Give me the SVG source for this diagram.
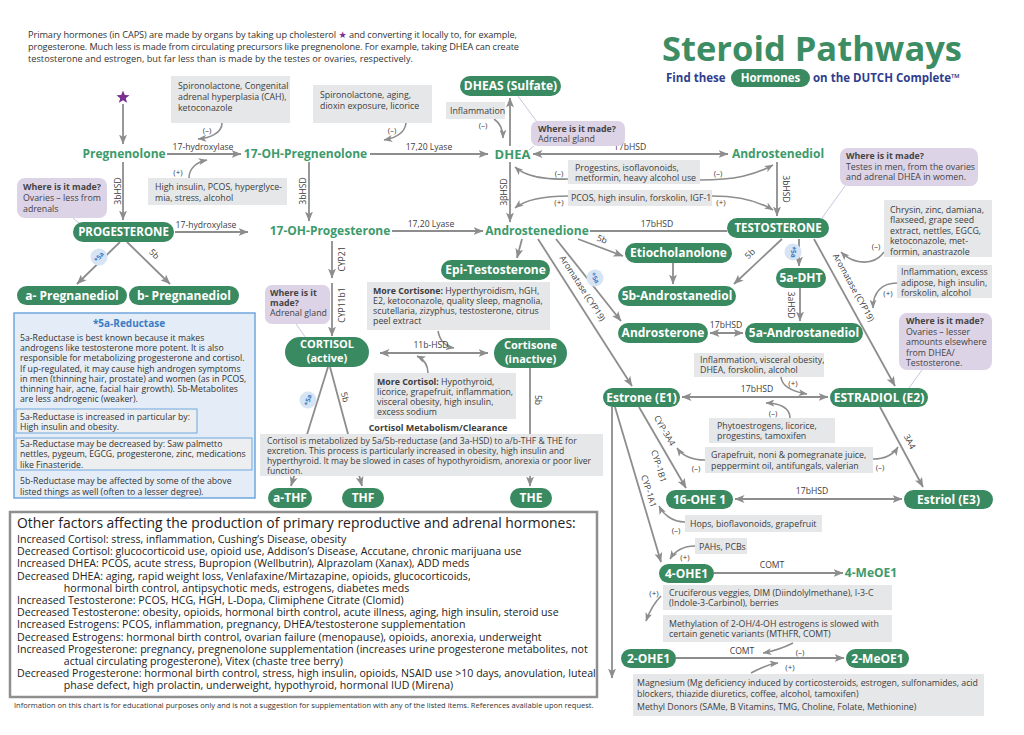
<svg xmlns="http://www.w3.org/2000/svg" width="1024" height="735" viewBox="0 0 1024 735">
<style>
text{font-family:"Open Sans","Noto Sans","Liberation Sans",sans-serif;}
.top{font-size:9.2px;fill:#333}
.n{font-size:12px;font-weight:700;fill:#3d9a6b}
.p{fill:#3a8a61}
.pt{font-size:12px;font-weight:700;fill:#fff;text-anchor:middle}
.g{fill:#e6e7e8}
.gt{font-size:8.8px;fill:#3d3d3d}
.b{font-weight:700}
.pu{fill:#ddd3e7}
.pt2{font-size:8.8px;fill:#444}
.lb{font-size:8.6px;fill:#3d3d3d}
.pm{font-size:8px;fill:#3d3d3d;text-anchor:middle}
.e{stroke:#8d8d8d;stroke-width:1.8;fill:none;marker-end:url(#ah)}
.e2{stroke:#8d8d8d;stroke-width:1.8;fill:none;marker-end:url(#ah);marker-start:url(#ah)}
.ep{stroke:#8d8d8d;stroke-width:1.8;fill:none}
.c{stroke:#8d8d8d;stroke-width:1.6;fill:none;marker-end:url(#ah2)}
.ptr{stroke:#bdb5d6;stroke-width:0.8;fill:none}
.ct{font-size:6.5px;font-weight:700;fill:#3b7cc5;text-anchor:middle}
.bt{font-size:8.7px;fill:#333}
.of{font-size:10.2px;fill:#222}
.cm{font-size:8.6px;fill:#3d3d3d}
</style>
<defs>
<marker id="ah" viewBox="0 0 10 8" refX="9.5" refY="4" markerWidth="10" markerHeight="8" markerUnits="userSpaceOnUse" orient="auto-start-reverse"><path d="M0,0 L10,4 L0,8 L2.5,4 z" fill="#8d8d8d"/></marker>
<marker id="ah2" viewBox="0 0 10 8" refX="9.5" refY="4" markerWidth="9" markerHeight="7" markerUnits="userSpaceOnUse" orient="auto"><path d="M0,0 L10,4 L0,8 L2.5,4 z" fill="#8d8d8d"/></marker>
</defs>
<rect width="1024" height="735" fill="#fff"/>

<!-- header -->
<g id="intro">
<text class="top" x="28" y="38" textLength="489" lengthAdjust="spacing">Primary hormones (in CAPS) are made by organs by taking up cholesterol <tspan fill="#7a2e8f" style="font-family:'DejaVu Sans',sans-serif">★</tspan> and converting it locally to, for example,</text>
<text class="top" x="28" y="50" textLength="491" lengthAdjust="spacing">progesterone. Much less is made from circulating precursors like pregnenolone. For example, taking DHEA can create</text>
<text class="top" x="28" y="62" textLength="385" lengthAdjust="spacing">testosterone and estrogen, but far less than is made by the testes or ovaries, respectively.</text>
</g>
<g id="title">
<text x="662" y="61" style="font-size:34.5px;font-weight:700;fill:#3c8d63">Steroid Pathways</text>
<text x="666" y="82" style="font-size:11.5px;font-weight:700;fill:#2f3d8d">Find these</text>
<rect x="731" y="69" width="79" height="18" rx="9" class="p"/>
<text x="770.5" y="82" style="font-size:11.5px;font-weight:700;fill:#fff;text-anchor:middle">Hormones</text>
<text x="813" y="82" style="font-size:11.5px;font-weight:700;fill:#2f3d8d">on the DUTCH Complete™</text>
</g>

<!-- connectors -->
<g id="connectors">
<path class="e" d="M123,104 V144"/>
<path class="e" d="M167,154 H241"/>
<path class="e" d="M370,154 H488"/>
<path class="e" d="M510,146 V98"/>
<path class="e2" d="M533,154 H728"/>
<path class="e" d="M123,162 V220"/>
<path class="e" d="M309,162 V221"/>
<path class="e" d="M510,162 V222"/>
<path class="e" d="M777,162 V216"/>
<path class="e" d="M175,232 H248"/>
<path class="e" d="M392,231 H483"/>
<path class="ep" d="M590,231 H727"/>
<path class="e" d="M799,239 V266"/>
<path class="e" d="M800,288 V321"/>
<path class="e2" d="M710,333 H743"/>
<path class="e" d="M782,239 L734,284"/>
<path class="e" d="M673,263 V284"/>
<path class="e" d="M578,239 L623,256"/>
<path class="e" d="M522,239 L517,258"/>
<path class="e" d="M556,239 L621,321"/>
<path class="e" d="M538,239 L632,386"/>
<path class="e" d="M814,239 L895,386"/>
<path class="e2" d="M682,397 H828"/>
<path class="e" d="M639,407 L686,488"/>
<path class="e" d="M615,407 L661,562"/>
<path class="e" d="M612,407 V678"/>
<path class="e" d="M880,407 L923,487"/>
<path class="e2" d="M735,499 H902"/>
<path class="e" d="M714,573 H843"/>
<path class="e" d="M676,658 H844"/>
<path class="e" d="M332,241 V278"/>
<path class="e" d="M332,283 V336"/>
<path class="e2" d="M380,353 H488"/>
<path class="e" d="M328,367 L291,486"/>
<path class="e" d="M330,367 L362,486"/>
<path class="e" d="M530,368 V486"/>
<path class="e" d="M120,242 L77,284"/>
<path class="e" d="M127,242 L170,284"/>
<!-- influence curves -->
<path class="c" d="M222,123 C222,133 210,138 198,139"/>
<path class="c" d="M189,178 C189,168 197,162 207,160"/>
<path class="c" d="M406,123 C405,133 395,138 384,140"/>
<path class="c" d="M494,119 C500,123 503,130 503,138"/>
<path class="c" d="M568,179 C545,180 525,176 515,167"/>
<path class="c" d="M700,180 C735,180 755,175 773,165"/>
<path class="c" d="M569,196 C545,196 525,200 515,208"/>
<path class="c" d="M712,196 C740,196 760,202 773,210"/>
<path class="c" d="M884,252 C875,265 855,266 841,252"/>
<path class="c" d="M897,283 C882,283 873,292 873,308"/>
<path class="c" d="M781,377 C782,388 795,392 807,394"/>
<path class="c" d="M790,418 C790,408 780,403 766,403"/>
<path class="c" d="M705,460 C690,460 682,455 677,448"/>
<path class="c" d="M873,459 C885,459 893,455 898,447"/>
<path class="c" d="M685,522 C672,522 663,514 659,506"/>
<path class="c" d="M695,546 C683,546 675,551 670,559"/>
<path class="c" d="M661,596 C655,602 650,610 646,621"/>
<path class="c" d="M793,643 C785,647 775,651 763,653"/>
<path class="c" d="M751,673 C760,668 770,664 778,663"/>
<path class="c" d="M438,331 C440,342 447,347 454,348"/>
<path class="c" d="M428,373 C428,365 423,359 417,356"/>
<!-- callout pointers -->
<path class="ptr" d="M72,217 L79,223"/>
<path class="ptr" d="M518,96 L537,122 M534,146 L529,150"/>
<path class="ptr" d="M845,186 L822,218"/>
<path class="ptr" d="M922,370 L909,388"/>
<path class="ptr" d="M296,324 L306,338"/>
<!-- edge labels -->
<text class="lb" x="203" y="150" text-anchor="middle">17-hydroxylase</text>
<text class="lb" x="429" y="150" text-anchor="middle">17,20 Lyase</text>
<text class="lb" x="630" y="150" text-anchor="middle">17bHSD</text>
<text class="lb" transform="translate(121,191) rotate(-90)" text-anchor="middle">3bHSD</text>
<text class="lb" transform="translate(306,191) rotate(-90)" text-anchor="middle">3bHSD</text>
<text class="lb" transform="translate(507,192) rotate(-90)" text-anchor="middle">3βHSD</text>
<text class="lb" transform="translate(783,189) rotate(90)" text-anchor="middle">3bHSD</text>
<text class="lb" x="206" y="228" text-anchor="middle">17-hydroxylase</text>
<text class="lb" x="431" y="227" text-anchor="middle">17,20 Lyase</text>
<text class="lb" x="657" y="227" text-anchor="middle">17bHSD</text>
<text class="lb" transform="translate(788,305) rotate(90)" text-anchor="middle">3aHSD</text>
<text class="lb" x="726" y="328" text-anchor="middle">17bHSD</text>
<text class="lb" transform="translate(752,256) rotate(-44)" text-anchor="middle">5b</text>
<text class="lb" transform="translate(601,242) rotate(21)" text-anchor="middle">5b</text>
<text class="lb" transform="translate(580,290) rotate(57)" text-anchor="middle">Aromatase (CYP19)</text>
<text class="lb" transform="translate(851,289) rotate(61)" text-anchor="middle">Aromatase (CYP19)</text>
<text class="lb" x="757" y="392" text-anchor="middle">17bHSD</text>
<text class="lb" transform="translate(662,432) rotate(60)" text-anchor="middle">CYP-3A4</text>
<text class="lb" transform="translate(656,467) rotate(73)" text-anchor="middle">CYP-1B1</text>
<text class="lb" transform="translate(646,492) rotate(73)" text-anchor="middle">CYP-1A1</text>
<text class="lb" transform="translate(907,443) rotate(62)" text-anchor="middle">3A4</text>
<text class="lb" x="812" y="494" text-anchor="middle">17bHSD</text>
<text class="lb" x="772" y="568" text-anchor="middle">COMT</text>
<text class="lb" x="742" y="654" text-anchor="middle">COMT</text>
<text class="lb" transform="translate(345,259) rotate(-90)" text-anchor="middle">CYP21</text>
<text class="lb" transform="translate(345,305) rotate(-90)" text-anchor="middle">CYP11b1</text>
<text class="lb" x="431" y="348" text-anchor="middle">11b-HSD</text>
<text class="lb" transform="translate(342,398) rotate(75)" text-anchor="middle">5b</text>
<text class="lb" transform="translate(535,400) rotate(90)" text-anchor="middle">5b</text>
<text class="lb" transform="translate(152,256) rotate(45)" text-anchor="middle">5b</text>
<!-- plus/minus -->
<text class="pm" x="207" y="133">(–)</text>
<text class="pm" x="178" y="175">(+)</text>
<text class="pm" x="392" y="133">(–)</text>
<text class="pm" x="483" y="128">(–)</text>
<text class="pm" x="559" y="176">(–)</text>
<text class="pm" x="718" y="176">(–)</text>
<text class="pm" x="559" y="205">(+)</text>
<text class="pm" x="721" y="205">(+)</text>
<text class="pm" x="876" y="249">(–)</text>
<text class="pm" x="888" y="296">(+)</text>
<text class="pm" x="793" y="386">(+)</text>
<text class="pm" x="773" y="416">(–)</text>
<text class="pm" x="696" y="471">(–)</text>
<text class="pm" x="880" y="470">(–)</text>
<text class="pm" x="676" y="533">(–)</text>
<text class="pm" x="685" y="560">(+)</text>
<text class="pm" x="654" y="596">(+)</text>
<text class="pm" x="800" y="655">(–)</text>
<text class="pm" x="790" y="670">(+)</text>
<!-- 5a circles -->
<g transform="translate(99,257) rotate(-50)"><circle r="8.5" fill="#d6e4f4"/><text class="ct" y="2.3">*5a</text></g>
<g transform="translate(793,252) rotate(90)"><circle r="8.5" fill="#d6e4f4"/><text class="ct" y="2.3">*5a</text></g>
<g transform="translate(595,278) rotate(60)"><circle r="8.5" fill="#d6e4f4"/><text class="ct" y="2.3">*5a</text></g>
<g transform="translate(308,400) rotate(-75)"><circle r="8.5" fill="#d6e4f4"/><text class="ct" y="2.3">*5a</text></g>
</g>

<!-- nodes -->
<g id="cholesterol"><polygon points="123,90.5 124.8,95 129.5,95.2 125.8,98.2 127.1,102.8 123,100.2 118.9,102.8 120.2,98.2 116.5,95.2 121.2,95" fill="#7a2e8f"/></g>
<g id="pregnenolone"><text class="n" x="124" y="158.3" text-anchor="middle">Pregnenolone</text></g>
<g id="oh-pregnenolone"><text class="n" x="305.5" y="158.3" text-anchor="middle">17-OH-Pregnenolone</text></g>
<g id="dhea"><text class="n" x="512.5" y="158.6" text-anchor="middle" style="font-size:13px">DHEA</text></g>
<g id="dheas"><rect class="p" x="460" y="76" width="101" height="20" rx="10"/><text class="pt" x="510.5" y="90.3">DHEAS (Sulfate)</text></g>
<g id="androstenediol"><text class="n" x="778" y="158.3" text-anchor="middle">Androstenediol</text></g>
<g id="progesterone"><rect class="p" x="73" y="222" width="101" height="20" rx="10"/><text class="pt" x="123.5" y="236.2" style="font-size:11.5px">PROGESTERONE</text></g>
<g id="oh-progesterone"><text class="n" x="330" y="235.3" text-anchor="middle">17-OH-Progesterone</text></g>
<g id="androstenedione"><text class="n" x="537" y="235.3" text-anchor="middle">Androstenedione</text></g>
<g id="testosterone"><rect class="p" x="727" y="218" width="102" height="20" rx="10"/><text class="pt" x="778" y="232.2" style="font-size:11.5px">TESTOSTERONE</text></g>
<g id="epi-testosterone"><rect class="p" x="441" y="260" width="109" height="20" rx="10"/><text class="pt" x="495.5" y="274.3">Epi-Testosterone</text></g>
<g id="etiocholanolone"><rect class="p" x="625" y="243" width="107" height="20" rx="10"/><text class="pt" x="678.5" y="257.3">Etiocholanolone</text></g>
<g id="b-androstanediol"><rect class="p" x="618" y="286" width="118" height="20" rx="10"/><text class="pt" x="677" y="300.3">5b-Androstanediol</text></g>
<g id="dht"><rect class="p" x="776" y="268" width="50" height="20" rx="10"/><text class="pt" x="801" y="282.3">5a-DHT</text></g>
<g id="androsterone"><rect class="p" x="618" y="323" width="90" height="20" rx="10"/><text class="pt" x="663" y="337.3">Androsterone</text></g>
<g id="a-androstanediol"><rect class="p" x="745" y="323" width="118" height="20" rx="10"/><text class="pt" x="804" y="337.3">5a-Androstanediol</text></g>
<g id="a-pregnanediol"><rect class="p" x="17" y="286" width="110" height="19" rx="9.5"/><text class="pt" x="72" y="299.8">a- Pregnanediol</text></g>
<g id="b-pregnanediol"><rect class="p" x="129" y="286" width="110" height="19" rx="9.5"/><text class="pt" x="184" y="299.8">b- Pregnanediol</text></g>
<g id="cortisol"><rect class="p" x="285" y="337" width="84" height="30" rx="15"/><text class="pt" x="327" y="348.3" style="font-size:11px">CORTISOL</text><text class="pt" x="327" y="361.8" style="font-size:11px">(active)</text></g>
<g id="cortisone"><rect class="p" x="494" y="338" width="73" height="30" rx="15"/><text class="pt" x="530.5" y="349.3" style="font-size:11px">Cortisone</text><text class="pt" x="530.5" y="362.8" style="font-size:11px">(inactive)</text></g>
<g id="a-thf"><rect class="p" x="268" y="488" width="44" height="20" rx="10"/><text class="pt" x="290" y="502.3">a-THF</text></g>
<g id="thf"><rect class="p" x="342" y="488" width="42" height="20" rx="10"/><text class="pt" x="363" y="502.3">THF</text></g>
<g id="the"><rect class="p" x="510" y="488" width="42" height="20" rx="10"/><text class="pt" x="531" y="502.3">THE</text></g>
<g id="estrone"><rect class="p" x="603" y="388" width="77" height="19" rx="9.5"/><text class="pt" x="641.5" y="401.8">Estrone (E1)</text></g>
<g id="estradiol"><rect class="p" x="830" y="388" width="98" height="19" rx="9.5"/><text class="pt" x="879" y="401.8">ESTRADIOL (E2)</text></g>
<g id="ohe16"><rect class="p" x="666" y="490" width="67" height="19" rx="9.5"/><text class="pt" x="699.5" y="503.8">16-OHE 1</text></g>
<g id="estriol"><rect class="p" x="904" y="490" width="89" height="19" rx="9.5"/><text class="pt" x="948.5" y="503.8">Estriol (E3)</text></g>
<g id="ohe4"><rect class="p" x="659" y="564" width="55" height="19" rx="9.5"/><text class="pt" x="686.5" y="577.8">4-OHE1</text></g>
<g id="meoe4"><text class="n" x="871" y="577.3" text-anchor="middle">4-MeOE1</text></g>
<g id="ohe2"><rect class="p" x="621" y="649" width="55" height="19" rx="9.5"/><text class="pt" x="648.5" y="662.8">2-OHE1</text></g>
<g id="meoe2"><rect class="p" x="846" y="649" width="63" height="19" rx="9.5"/><text class="pt" x="877.5" y="662.8">2-MeOE1</text></g>

<!-- gray factor boxes -->
<g id="f-spiro1"><rect class="g" x="171" y="76" width="119" height="47"/><text class="gt" x="178" y="89">Spironolactone, Congenital</text><text class="gt" x="178" y="100">adrenal hyperplasia (CAH),</text><text class="gt" x="178" y="111">ketoconazole</text></g>
<g id="f-insulin"><rect class="g" x="148" y="178" width="139" height="27"/><text class="gt" x="155" y="189.5">High insulin, PCOS, hyperglyce-</text><text class="gt" x="155" y="200.5">mia, stress, alcohol</text></g>
<g id="f-spiro2"><rect class="g" x="313" y="85" width="119" height="38"/><text class="gt" x="320" y="98">Spironolactone, aging,</text><text class="gt" x="320" y="109">dioxin exposure, licorice</text></g>
<g id="f-inflam1"><rect class="g" x="446" y="102" width="59" height="17"/><text class="gt" x="450" y="114">Inflammation</text></g>
<g id="f-progestins"><rect class="g" x="568" y="160" width="132" height="24"/><text class="gt" x="575" y="170.5">Progestins, isoflavonoids,</text><text class="gt" x="575" y="181">metformin, heavy alcohol use</text></g>
<g id="f-pcos"><rect class="g" x="568" y="190" width="144" height="16"/><text class="gt" x="571" y="201">PCOS, high insulin, forskolin, IGF-1</text></g>
<g id="f-chrysin"><rect class="g" x="884" y="200" width="108" height="57"/><text class="gt" x="890" y="212.5">Chrysin, zinc, damiana,</text><text class="gt" x="890" y="223">flaxseed, grape seed</text><text class="gt" x="890" y="233.5">extract, nettles, EGCG,</text><text class="gt" x="890" y="244">ketoconazole, met-</text><text class="gt" x="890" y="254.5">formin, anastrazole</text></g>
<g id="f-inflam2"><rect class="g" x="897" y="265" width="95" height="33"/><text class="gt" x="901" y="275">Inflammation, excess</text><text class="gt" x="901" y="285.5">adipose, high insulin,</text><text class="gt" x="901" y="296">forskolin, alcohol</text></g>
<g id="f-inflam3"><rect class="g" x="694" y="353" width="130" height="24"/><text class="gt" x="700" y="362.5">Inflammation, visceral obesity,</text><text class="gt" x="700" y="373">DHEA, forskolin, alcohol</text></g>
<g id="f-phyto"><rect class="g" x="709" y="418" width="126" height="25"/><text class="gt" x="717" y="428.5">Phytoestrogens, licorice,</text><text class="gt" x="717" y="439">progestins, tamoxifen</text></g>
<g id="f-grapefruit"><rect class="g" x="705" y="447" width="168" height="26"/><text class="gt" x="711" y="458">Grapefruit, noni &amp; pomegranate juice,</text><text class="gt" x="711" y="468.5">peppermint oil, antifungals, valerian</text></g>
<g id="f-hops"><rect class="g" x="685" y="515" width="137" height="17"/><text class="gt" x="690" y="526.5">Hops, bioflavonoids, grapefruit</text></g>
<g id="f-pahs"><rect class="g" x="695" y="538" width="52" height="16"/><text class="gt" x="699" y="549.5">PAHs, PCBs</text></g>
<g id="f-cruciferous"><rect class="g" x="663" y="585" width="229" height="25"/><text class="gt" x="669" y="595.5">Cruciferous veggies, DIM (Diindolylmethane), I-3-C</text><text class="gt" x="669" y="606">(Indole-3-Carbinol), berries</text></g>
<g id="f-methylation"><rect class="g" x="663" y="615" width="229" height="27"/><text class="gt" x="669" y="626.5">Methylation of 2-OH/4-OH estrogens is slowed with</text><text class="gt" x="669" y="637">certain genetic variants (MTHFR, COMT)</text></g>
<g id="f-magnesium"><rect class="g" x="633" y="674" width="351" height="42"/><text class="gt" x="637" y="686">Magnesium (Mg deficiency induced by corticosteroids, estrogen, sulfonamides, acid</text><text class="gt" x="637" y="696.5">blockers, thiazide diuretics, coffee, alcohol, tamoxifen)</text><text class="gt" x="637" y="709.5">Methyl Donors (SAMe, B Vitamins, TMG, Choline, Folate, Methionine)</text></g>
<g id="f-morecortisone"><rect class="g" x="367" y="282" width="183" height="48"/><text class="gt" x="373" y="293.5"><tspan class="b">More Cortisone:</tspan> Hyperthyroidism, hGH,</text><text class="gt" x="373" y="303.5">E2, ketoconazole, quality sleep, magnolia,</text><text class="gt" x="373" y="313.5">scutellaria, zizyphus, testosterone, citrus</text><text class="gt" x="373" y="323.5">peel extract</text></g>
<g id="f-morecortisol"><rect class="g" x="374" y="373" width="142" height="46"/><text class="gt" x="377" y="384.5"><tspan class="b">More Cortisol:</tspan> Hypothyroid,</text><text class="gt" x="377" y="394.5">licorice, grapefruit, inflammation,</text><text class="gt" x="377" y="404.5">visceral obesity, high insulin,</text><text class="gt" x="377" y="414.5">excess sodium</text></g>
<g id="cortisol-clearance"><text class="gt b" x="438" y="431" text-anchor="middle" style="font-size:9px">Cortisol Metabolism/Clearance</text><rect class="g" x="260" y="434" width="343" height="42"/><text class="cm" x="267" y="444">Cortisol is metabolized by 5a/5b-reductase (and 3a-HSD) to a/b-THF &amp; THE for</text><text class="cm" x="267" y="454">excretion. This process is particularly increased in obesity, high insulin and</text><text class="cm" x="267" y="464">hyperthyroid. It may be slowed in cases of hypothyroidism, anorexia or poor liver</text><text class="cm" x="267" y="474">function.</text></g>

<!-- where is it made callouts -->
<g id="w-progesterone"><rect class="pu" x="17" y="178" width="90" height="40" rx="8"/><text class="pt2 b" x="23" y="190" fill="#333">Where is it made?</text><text class="pt2" x="23" y="201">Ovaries – less from</text><text class="pt2" x="23" y="212">adrenals</text></g>
<g id="w-dhea"><rect class="pu" x="531" y="121" width="94" height="25" rx="7"/><text class="pt2 b" x="538" y="131.5" fill="#333">Where is it made?</text><text class="pt2" x="538" y="142">Adrenal gland</text></g>
<g id="w-testosterone"><rect class="pu" x="840" y="148" width="138" height="38" rx="8"/><text class="pt2 b" x="846" y="159" fill="#333">Where is it made?</text><text class="pt2" x="846" y="169.5">Testes in men, from the ovaries</text><text class="pt2" x="846" y="180">and adrenal DHEA in women.</text></g>
<g id="w-estradiol"><rect class="pu" x="899" y="313" width="93" height="57" rx="8"/><text class="pt2 b" x="906" y="324" fill="#333">Where is it made?</text><text class="pt2" x="906" y="334.5">Ovaries – lesser</text><text class="pt2" x="906" y="345">amounts elsewhere</text><text class="pt2" x="906" y="355.5">from DHEA/</text><text class="pt2" x="906" y="366">Testosterone.</text></g>
<g id="w-cortisol"><rect class="pu" x="265" y="285" width="65" height="39" rx="7"/><text class="pt2 b" x="270" y="295.5" fill="#333">Where is it</text><text class="pt2 b" x="270" y="305.5" fill="#333">made?</text><text class="pt2" x="270" y="316">Adrenal gland</text></g>

<!-- 5a-reductase panel -->
<g id="reductase">
<rect x="14" y="313" width="241" height="185" fill="#e4edf7" stroke="#6fa7dd" stroke-width="1.5"/>
<text x="129" y="327" text-anchor="middle" style="font-size:10px;font-weight:700;fill:#3b7cc5">*5a-Reductase</text>
<text class="bt" x="20" y="341">5a-Reductase is best known because it makes</text>
<text class="bt" x="20" y="351.2">androgens like testosterone more potent. It is also</text>
<text class="bt" x="20" y="361.4">responsible for metabolizing progesterone and cortisol.</text>
<text class="bt" x="20" y="371.6">If up-regulated, it may cause high androgen symptoms</text>
<text class="bt" x="20" y="381.8">in men (thinning hair, prostate) and women (as in PCOS,</text>
<text class="bt" x="20" y="392">thinning hair, acne, facial hair growth). 5b-Metabolites</text>
<text class="bt" x="20" y="402.2">are less androgenic (weaker).</text>
<rect x="16" y="409" width="181" height="24" fill="#eceef0" stroke="#6fa7dd" stroke-width="1"/>
<text class="bt" x="20" y="419.5">5a-Reductase is increased in particular by:</text>
<text class="bt" x="20" y="430">High insulin and obesity.</text>
<rect x="16" y="438" width="236" height="32" fill="#eceef0" stroke="#6fa7dd" stroke-width="1"/>
<text class="bt" x="20" y="447">5a-Reductase may be decreased by: Saw palmetto</text>
<text class="bt" x="20" y="457.4">nettles, pygeum, EGCG, progesterone, zinc, medications</text>
<text class="bt" x="20" y="467.8">like Finasteride.</text>
<text class="bt" x="20" y="484">5b-Reductase may be affected by some of the above</text>
<text class="bt" x="20" y="494.5">listed things as well (often to a lesser degree).</text>
</g>

<!-- other factors -->
<g id="other-factors">
<rect x="10" y="512" width="587" height="185" fill="#fff" stroke="#8f8f8f" stroke-width="2.5"/>
<text x="17" y="528" style="font-size:13.9px;fill:#222">Other factors affecting the production of primary reproductive and adrenal hormones:</text>
<g transform="translate(17,0) scale(1.04,1)">
<text class="of" x="0" y="543">Increased Cortisol: stress, inflammation, Cushing’s Disease, obesity</text>
<text class="of" x="0" y="555.2">Decreased Cortisol: glucocorticoid use, opioid use, Addison’s Disease, Accutane, chronic marijuana use</text>
<text class="of" x="0" y="567.4">Increased DHEA: PCOS, acute stress, Bupropion (Wellbutrin), Alprazolam (Xanax), ADD meds</text>
<text class="of" x="0" y="579.6">Decreased DHEA: aging, rapid weight loss, Venlafaxine/Mirtazapine, opioids, glucocorticoids,</text>
<text class="of" x="45" y="591.8">hormonal birth control, antipsychotic meds, estrogens, diabetes meds</text>
<text class="of" x="0" y="604">Increased Testosterone: PCOS, HCG, HGH, L-Dopa, Climiphene Citrate (Clomid)</text>
<text class="of" x="0" y="616.2">Decreased Testosterone: obesity, opioids, hormonal birth control, acute illness, aging, high insulin, steroid use</text>
<text class="of" x="0" y="628.4">Increased Estrogens: PCOS, inflammation, pregnancy, DHEA/testosterone supplementation</text>
<text class="of" x="0" y="640.6">Decreased Estrogens: hormonal birth control,  ovarian failure (menopause), opioids, anorexia, underweight</text>
<text class="of" x="0" y="652.8">Increased Progesterone: pregnancy, pregnenolone supplementation (increases urine progesterone metabolites, not</text>
<text class="of" x="45" y="665">actual circulating progesterone), Vitex (chaste tree berry)</text>
<text class="of" x="0" y="677.2">Decreased Progesterone: hormonal birth control, stress, high insulin, opioids, NSAID use &gt;10 days, anovulation, luteal</text>
<text class="of" x="45" y="689.4">phase defect, high prolactin, underweight, hypothyroid, hormonal IUD (Mirena)</text>
</g>
</g>
<g id="footer"><text x="14" y="708" style="font-size:7.5px;fill:#333">Information on this chart is for educational purposes only and is not a suggestion for supplementation with any of the listed items. References available upon request.</text></g>
</svg>
